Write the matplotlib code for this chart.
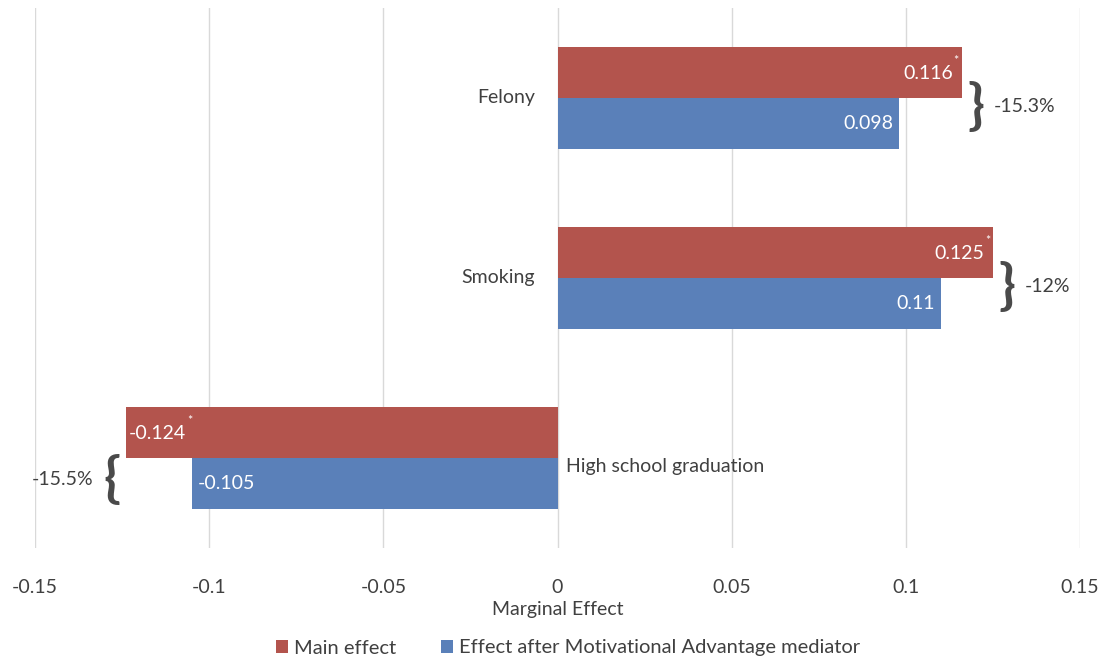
import matplotlib
matplotlib.use("Agg")
import matplotlib.pyplot as plt
import numpy as np

plt.rcParams['font.family'] = ['Lato', 'DejaVu Sans']

categories = ["High school graduation", "Smoking", "Felony"]
main_effect = [-0.124, 0.125, 0.116]
after_mediator = [-0.105, 0.11, 0.098]
pct_change = ["-15.5%", "-12%", "-15.3%"]
xticks = [-0.15, -0.1, -0.05, 0, 0.05, 0.1, 0.15]
xtick_labels = ["-0.15", "-0.1", "-0.05", "0", "0.05", "0.1", "0.15"]

red = "#B3544D"
blue = "#5A80B9"
txt = "#404040"
fs = 14

fig = plt.figure(figsize=(11.03, 6.62), dpi=100)
ax = fig.add_axes([35 / 1103, 1 - 548 / 662, 1045 / 1103, 540 / 662])

y = np.arange(len(categories))
h = 0.285
bars_main = ax.barh(y + h / 2, main_effect, height=h, color=red, label="Main effect", zorder=3)
bars_med = ax.barh(y - h / 2, after_mediator, height=h, color=blue,
                   label="Effect after Motivational Advantage mediator", zorder=3)

ax.set_xlim(-0.15, 0.15)
ax.set_ylim(-0.5, 2.5)
ax.set_xticks(xticks)
ax.set_xticklabels(xtick_labels, fontsize=fs, color=txt)
ax.set_yticks([])
ax.tick_params(axis='x', length=0, pad=22)
ax.grid(axis='x', color="#D9D9D9", linewidth=1, zorder=0)
for s in ax.spines.values():
    s.set_visible(False)
ax.set_xlabel("Marginal Effect", fontsize=fs, color=txt, labelpad=4)

# category labels next to zero line
ax.annotate("Felony", (0, 2), xytext=(-16, 0), textcoords='offset points',
            ha='right', va='center', fontsize=fs, color=txt)
ax.annotate("Smoking", (0, 1), xytext=(-16, 0), textcoords='offset points',
            ha='right', va='center', fontsize=fs, color=txt)
ax.annotate("High school graduation", (0, 0), xytext=(6, -6), textcoords='offset points',
            ha='left', va='center', fontsize=fs, color=txt)

# value labels inside bar ends
for yi, v in zip(y, after_mediator):
    if v >= 0:
        ax.annotate(f"{v:g}", (v, yi - h / 2), xytext=(-4, 0), textcoords='offset points',
                    ha='right', va='center', fontsize=fs, color='white', zorder=4)
    else:
        ax.annotate(f"{v:g}", (v, yi - h / 2), xytext=(4, 0), textcoords='offset points',
                    ha='left', va='center', fontsize=fs, color='white', zorder=4)

fig.canvas.draw()
r = fig.canvas.get_renderer()
for yi, v in zip(y, main_effect):
    if v >= 0:
        ax.annotate(f"{v:g}", (v, yi + h / 2), xytext=(-6, -1), textcoords='offset points',
                    ha='right', va='center', fontsize=fs, color='white', zorder=4)
        ax.annotate("*", (v, yi + h / 2), xytext=(-2, 8), textcoords='offset points',
                    ha='right', va='center', fontsize=9, color='white', zorder=4)
    else:
        t = ax.annotate(f"{v:g}", (v, yi + h / 2), xytext=(2, -1), textcoords='offset points',
                        ha='left', va='center', fontsize=fs, color='white', zorder=4)
        ext = t.get_window_extent(r)
        xe, _ = ax.transData.inverted().transform((ext.x1, 0))
        ax.annotate("*", (xe, yi + h / 2), xytext=(1, 8), textcoords='offset points',
                    ha='left', va='center', fontsize=9, color='white', zorder=4)

# braces with percent change
for yi, mv, av, p in zip(y, main_effect, after_mediator, pct_change):
    if mv >= 0:
        x0 = max(mv, av)
        ax.annotate("}", (x0, yi - 0.05), xytext=(4, 0), textcoords='offset points',
                    ha='left', va='center', fontsize=40, color="#4a4a4a",
                    fontweight='bold')
        ax.annotate(p, (x0, yi - 0.05), xytext=(23, 0), textcoords='offset points',
                    ha='left', va='center', fontsize=fs, color=txt)
    else:
        x0 = min(mv, av)
        ax.annotate("{", (x0, yi - 0.12), xytext=(-4, 0), textcoords='offset points',
                    ha='right', va='center', fontsize=40, color="#4a4a4a",
                    fontweight='bold')
        ax.annotate(p, (x0, yi - 0.12), xytext=(-23, 0), textcoords='offset points',
                    ha='right', va='center', fontsize=fs, color=txt)

fig.legend(handles=[bars_main, bars_med], loc='center', bbox_to_anchor=(568 / 1103, 1 - 648 / 662),
           ncol=2, frameon=False, fontsize=14.5, handlelength=0.6, handleheight=0.6,
           handletextpad=0.3, columnspacing=2.2, labelcolor=txt)

fig.savefig("out.png", dpi=100)
